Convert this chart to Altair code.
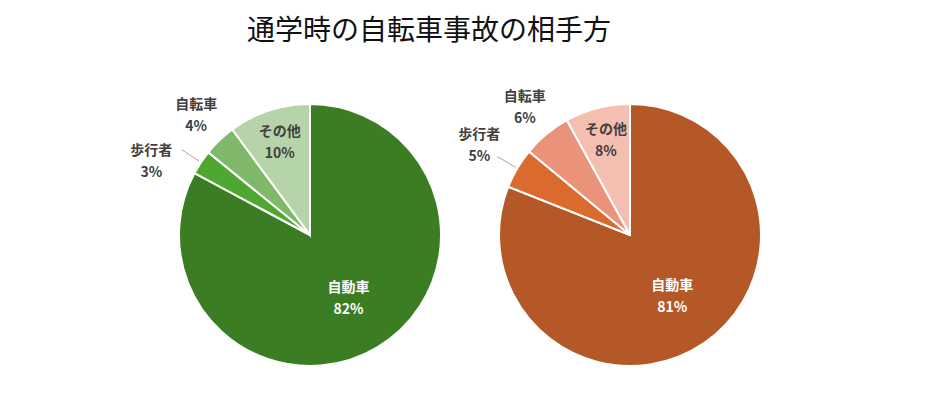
import altair as alt
import pandas as pd

title_text = "通学時の自転車事故の相手方"
categories = ["自動車", "歩行者", "自転車", "その他"]
pie_names = ["左", "右"]
left_values = [82, 3, 4, 10]
right_values = [81, 5, 6, 8]

left_colors = ["#3B7D23", "#4EA72E", "#80B86A", "#B5D4A9"]
right_colors = ["#B55828", "#DA6A2E", "#EB927A", "#F4BEB0"]

rows = []
for pie, vals, cols in [(pie_names[0], left_values, left_colors), (pie_names[1], right_values, right_colors)]:
    for i, (c, v, col) in enumerate(zip(categories, vals, cols)):
        rows.append({"pie": pie, "cat": c, "value": v, "idx": i, "color": col})
df = pd.DataFrame(rows)

FONT = "Noto Sans CJK JP"
R = 131

base = alt.Chart(df).transform_joinaggregate(
    total="sum(value)", groupby=["pie"]
).transform_window(
    cum="sum(value)", sort=[alt.SortField("idx")], groupby=["pie"], frame=[None, 0]
).transform_calculate(
    t1="datum.cum / datum.total * 2 * PI",
    t0="(datum.cum - datum.value) / datum.total * 2 * PI",
).transform_calculate(
    mid="(datum.t0 + datum.t1) / 2",
    cx="datum.pie == '左' ? 302 : 622",
    cy="177",
    lr="datum.cat == '自動車' ? 75 : datum.cat == '歩行者' ? 175 : datum.cat == '自転車' ? 165 : 97",
    label="datum.cat + '\\n' + datum.value + '%'",
).transform_calculate(
    lx="datum.cx + datum.lr * sin(datum.mid) + ((datum.pie == '左' && datum.cat == '歩行者') ? -13 : 0)",
    ly="datum.cy - datum.lr * cos(datum.mid) + ((datum.pie == '左' && datum.cat == '歩行者') ? 24 : 0)",
    ax="datum.cx + 133 * sin(datum.mid)",
    ay="datum.cy - 133 * cos(datum.mid)",
    bx="datum.cx + 154 * sin(datum.mid)",
    by="datum.cy - 154 * cos(datum.mid)",
    tcolor="datum.cat == '自動車' ? '#FFFFFF' : '#404040'",
)

arcs = base.mark_arc(radius=R, stroke="white", strokeWidth=2).encode(
    x=alt.X("cx:Q", scale=None, axis=None),
    y=alt.Y("cy:Q", scale=None, axis=None),
    theta=alt.Theta("t0:Q", scale=None, stack=None),
    theta2="t1:Q",
    color=alt.Color("color:N", scale=None, legend=None),
    tooltip=["cat:N", "value:Q"],
)

leaders = base.transform_filter("datum.cat == '歩行者'").mark_rule(
    color="#A6A6A6", strokeWidth=1
).encode(
    x=alt.X("ax:Q", scale=None, axis=None),
    y=alt.Y("ay:Q", scale=None, axis=None),
    x2="bx:Q",
    y2="by:Q",
)

labels = base.mark_text(
    font=FONT, fontSize=14, fontWeight="bold", lineBreak="\n", lineHeight=22,
    align="center", baseline="middle", dy=-11,
).encode(
    x=alt.X("lx:Q", scale=None, axis=None),
    y=alt.Y("ly:Q", scale=None, axis=None),
    text="label:N",
    color=alt.Color("tcolor:N", scale=None, legend=None),
)

chart = alt.layer(arcs, leaders, labels).properties(
    width=924,
    height=339,
    padding={"left": 0, "top": 50, "right": 0, "bottom": 0},
    autosize=alt.AutoSizeParams(type="none"),
    title=alt.Title(
        title_text, font=FONT, fontSize=28, fontWeight="normal", color="#111111",
        anchor="middle", dx=-41, offset=12,
    ),
).configure_view(stroke=None)

chart.save("out.html", embed_options={"renderer": "svg", "actions": False})
